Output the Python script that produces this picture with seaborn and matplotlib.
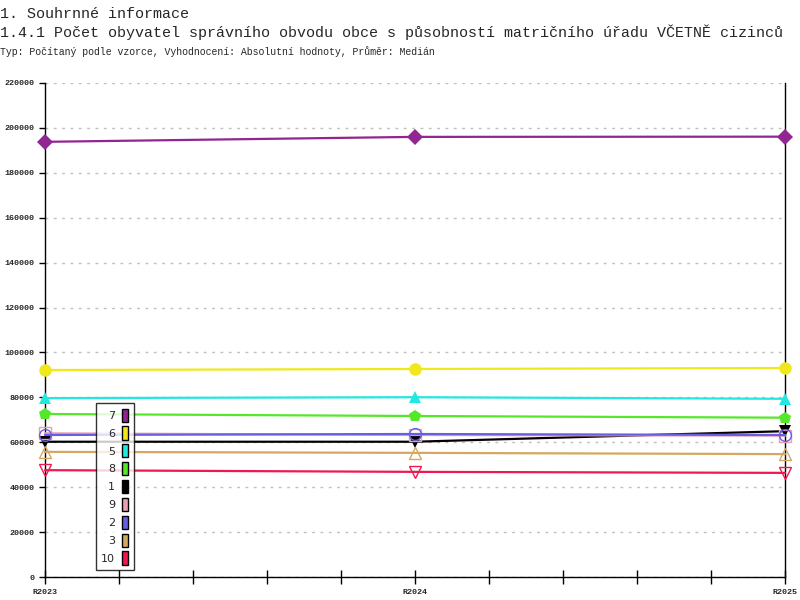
import matplotlib
matplotlib.use("Agg")
import matplotlib.pyplot as plt
import seaborn as sns
from matplotlib.patches import Patch
from matplotlib.ticker import MultipleLocator, FuncFormatter

years = ["R2023", "R2024", "R2025"]

series_names = ["7", "6", "5", "8", "1", "9", "2", "3", "10"]
v7 = [193700, 195900, 196000]
v6 = [92200, 92650, 93100]
v5 = [79700, 80100, 79400]
v8 = [72650, 71750, 71000]
v1 = [60300, 60300, 65000]
v9 = [64050, 63300, 63000]
v2 = [63300, 63740, 63300]
v3 = [55800, 55350, 54800]
v10 = [47650, 46900, 46450]
values = [v7, v6, v5, v8, v1, v9, v2, v3, v10]

colors = ["#912591", "#f0e81c", "#22e8e0", "#55e82a", "#000000",
          "#e8a0b4", "#6a5ee0", "#d4a860", "#f01850"]
markers = ["D", "o", "^", "p", "v", "s", "o", "^", "v"]
filled = [True, True, True, True, True, False, False, False, False]
msizes = [8.5, 9, 9, 9, 8, 9, 8.5, 9, 9]

title1 = "1. Souhrnné informace"
title2 = "1.4.1 Počet obyvatel správního obvodu obce s působností matričního úřadu VČETNĚ cizinců"
title3 = "Typ: Počítaný podle vzorce, Vyhodnocení: Absolutní hodnoty, Průměr: Medián"

sns.set_style("white")
plt.rcParams['font.family'] = ['Liberation Mono', 'DejaVu Sans Mono']

fig = plt.figure(figsize=(8, 6), dpi=100)
ax = fig.add_axes([45 / 800, 1 - 577.3 / 600, 740 / 800, 494.6 / 600])

for name, vals, c, m, f, ms in zip(series_names, values, colors, markers, filled, msizes):
    sns.lineplot(x=years, y=vals, ax=ax, color=c, linewidth=1.6,
                 marker=m, markersize=ms,
                 markerfacecolor=c if f else "none",
                 markeredgecolor=c, markeredgewidth=0 if f else 1.0,
                 clip_on=False, zorder=3)

ax.set_xlim(0, 2)
ax.set_ylim(0, 220000)
ax.set_yticks(range(0, 220001, 20000))
ax.yaxis.set_major_formatter(FuncFormatter(lambda v, p: f"{int(v)}"))
ax.xaxis.set_minor_locator(MultipleLocator(0.2))
ax.set_xlabel("")
ax.set_ylabel("")

ax.grid(axis="y", color="#bfbfbf", linestyle=(0, (2, 4)), linewidth=1, zorder=0)
ax.grid(axis="x", visible=False)
ax.set_axisbelow(True)

for s in ["left", "bottom", "right"]:
    ax.spines[s].set_visible(True)
    ax.spines[s].set_color("black")
    ax.spines[s].set_linewidth(1)
ax.spines["top"].set_visible(False)

ax.tick_params(axis="y", direction="out", length=4, width=1, color="black",
               labelsize=6, pad=3.5, left=True)
ax.tick_params(axis="x", which="both", direction="inout", length=10, width=1,
               color="black", labelsize=6, pad=3.5, bottom=True)
for lab in ax.get_yticklabels() + ax.get_xticklabels():
    lab.set_fontweight("bold")

fig.text(0.0, 1 - 18.5 / 600, title1, fontsize=10.8, va="baseline", ha="left")
fig.text(0.0, 1 - 36.5 / 600, title2, fontsize=10.8, va="baseline", ha="left")
fig.text(0.0, 1 - 55 / 600, title3, fontsize=7.1, va="baseline", ha="left")

handles = [Patch(facecolor=c, edgecolor="black", linewidth=1) for c in colors]
leg = ax.legend(handles, series_names, loc="upper left",
                bbox_to_anchor=(95.7 / 800, 1 - 403 / 600),
                bbox_transform=fig.transFigure,
                markerfirst=False, frameon=True, fancybox=False, shadow=False,
                handlelength=0.55, handleheight=1.45, handletextpad=0.6,
                labelspacing=0.42, borderpad=0.5, borderaxespad=0,
                prop={"family": "DejaVu Sans", "size": 8})
leg.get_frame().set_edgecolor("black")
leg.get_frame().set_linewidth(1)
leg.set_zorder(10)

fig.savefig("out.png", dpi=100)
